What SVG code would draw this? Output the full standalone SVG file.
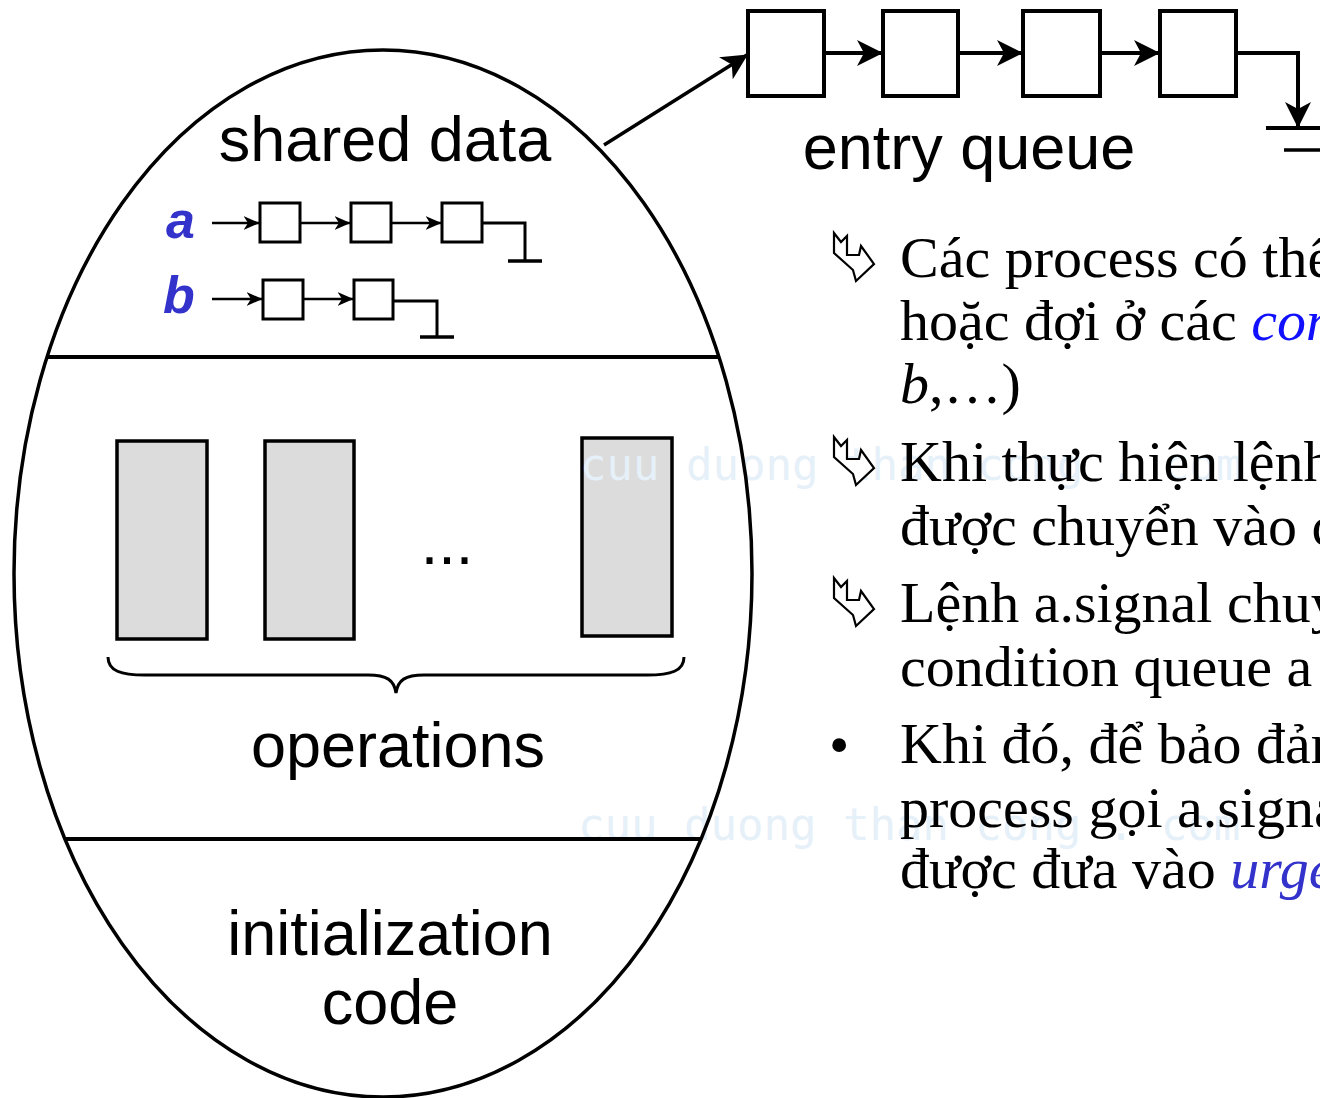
<svg xmlns="http://www.w3.org/2000/svg" width="1320" height="1098" viewBox="0 0 1320 1098">
<style>
.sans{font-family:"Liberation Sans",Arial,sans-serif;fill:#000}
.lbl{font-size:63px;text-anchor:middle}
.ql{font-size:52px;font-weight:bold;font-style:italic;fill:#3333cc}
.body{font-family:"Liberation Serif","Times New Roman",serif;font-size:58px;fill:#000}
.wm{font-family:"DejaVu Sans Mono",monospace;font-size:44px;fill:#e6f0f9}
.box{fill:#fff;stroke:#000;stroke-width:4}
.sbox{fill:#fff;stroke:#000;stroke-width:3}
.op{fill:#dcdcdc;stroke:#000;stroke-width:3.5}
.ln{fill:none;stroke:#000;stroke-width:4}
.sln{fill:none;stroke:#000;stroke-width:2.5}
.icon{fill:#fff;stroke:#000;stroke-width:2.2;stroke-linejoin:miter}
</style>
<defs>
<marker id="ah" markerUnits="userSpaceOnUse" markerWidth="26" markerHeight="26" viewBox="0 0 26 26" refX="25" refY="13" orient="auto">
<path d="M0,0 L26,13 L0,26 L7,13 z" fill="#000"/>
</marker>
<marker id="ahs" markerUnits="userSpaceOnUse" markerWidth="16" markerHeight="14" viewBox="0 0 16 14" refX="15.5" refY="7" orient="auto">
<path d="M0,0 L16,7 L0,14 L4.5,7 z" fill="#000"/>
</marker>
<symbol id="bul" viewBox="0 0 42 50" width="42" height="50" overflow="visible">
<path class="icon" d="M1,1 L1,21 L20,38 L23,49 L41,32 L28,14 L26,23 L14,23 L14,4 L8,10 z"/>
</symbol>
</defs>

<g id="operation-1"><rect class="op" x="117" y="441" width="90" height="198"/></g>
<g id="operation-2"><rect class="op" x="265" y="441" width="89" height="198"/></g>
<g id="operation-n"><rect class="op" x="582" y="438" width="90" height="198"/></g>

<g id="watermark">
<text class="wm" x="580" y="480">cuu duong than cong . com</text>
<text class="wm" x="578" y="840">cuu duong than cong . com</text>
</g>

<g id="monitor">
<ellipse cx="383" cy="573.5" rx="369" ry="523.5" fill="none" stroke="#000" stroke-width="3.5"/>
<line x1="47" y1="357" x2="719" y2="357" stroke="#000" stroke-width="4"/>
<line x1="65" y1="839" x2="701" y2="839" stroke="#000" stroke-width="4"/>
</g>

<g id="shared-data">
<text class="sans lbl" x="385" y="161">shared data</text>
<text class="sans ql" x="166" y="238">a</text>
<text class="sans ql" x="163" y="313">b</text>
<rect class="sbox" x="260" y="203" width="40" height="39"/>
<rect class="sbox" x="351" y="203" width="40" height="39"/>
<rect class="sbox" x="442" y="203" width="40" height="39"/>
<rect class="sbox" x="263" y="280" width="40" height="39"/>
<rect class="sbox" x="354" y="280" width="39" height="39"/>
</g>

<g id="operations-label">
<text class="sans lbl" x="447" y="564">...</text>
<path class="ln" style="stroke-width:3" d="M108,657 C108,671 121,675 145,675 L368,675 C387,675 394,680 396,693 C398,680 405,675 424,675 L647,675 C671,675 684,671 684,657"/>
<text class="sans lbl" x="398" y="767">operations</text>
</g>

<g id="init-code">
<text class="sans lbl" x="390" y="955">initialization</text>
<text class="sans lbl" x="390" y="1024">code</text>
</g>

<g id="entry-queue">
<rect class="box" x="748" y="11" width="76" height="85"/>
<rect class="box" x="883" y="11" width="75" height="85"/>
<rect class="box" x="1023" y="11" width="77" height="85"/>
<rect class="box" x="1160" y="11" width="76" height="85"/>
<text class="sans lbl" x="969" y="169">entry queue</text>
</g>

<g id="connectors">
<line class="ln" style="stroke-width:3.5" x1="604" y1="145" x2="747" y2="55" marker-end="url(#ah)"/>
<line class="ln" x1="824" y1="53" x2="882" y2="53" marker-end="url(#ah)"/>
<line class="ln" x1="958" y1="53" x2="1022" y2="53" marker-end="url(#ah)"/>
<line class="ln" x1="1100" y1="53" x2="1159" y2="53" marker-end="url(#ah)"/>
<path class="ln" d="M1236,53 H1298 V127" marker-end="url(#ah)"/>
<line class="ln" x1="1266" y1="128" x2="1320" y2="128"/>
<line class="ln" style="stroke-width:3.5" x1="1284" y1="150" x2="1320" y2="150"/>
<line class="sln" x1="212" y1="223" x2="259" y2="223" marker-end="url(#ahs)"/>
<line class="sln" x1="300" y1="223" x2="350" y2="223" marker-end="url(#ahs)"/>
<line class="sln" x1="391" y1="223" x2="441" y2="223" marker-end="url(#ahs)"/>
<path class="sln" style="stroke-width:3" d="M482,223 H525 V261"/>
<line class="ln" style="stroke-width:3.5" x1="508" y1="261" x2="542" y2="261"/>
<line class="sln" x1="212" y1="299" x2="262" y2="299" marker-end="url(#ahs)"/>
<line class="sln" x1="303" y1="299" x2="353" y2="299" marker-end="url(#ahs)"/>
<path class="sln" style="stroke-width:3" d="M393,301 H437 V337"/>
<line class="ln" style="stroke-width:3.5" x1="420" y1="337" x2="454" y2="337"/>
</g>

<g id="notes">
<use href="#bul" x="833" y="232"/>
<use href="#bul" x="833" y="436"/>
<use href="#bul" x="833" y="577"/>
<text class="body" x="829" y="764">•</text>
<text class="body" x="900" y="277">Các process có thể</text>
<text class="body" x="900" y="340">hoặc đợi ở các <tspan font-style="italic" fill="#1010ff">con</tspan></text>
<text class="body" x="900" y="403"><tspan font-style="italic">b</tspan>,…)</text>
<text class="body" x="900" y="481">Khi thực hiện lệnh</text>
<text class="body" x="900" y="545">được chuyển vào c</text>
<text class="body" x="900" y="622">Lệnh a.signal chuyể</text>
<text class="body" x="900" y="686">condition queue a</text>
<text class="body" x="900" y="763">Khi đó, để bảo đảm</text>
<text class="body" x="900" y="827">process gọi a.signa</text>
<text class="body" x="900" y="888">được đưa vào <tspan font-style="italic" fill="#3333cc">urge</tspan></text>
</g>
</svg>
